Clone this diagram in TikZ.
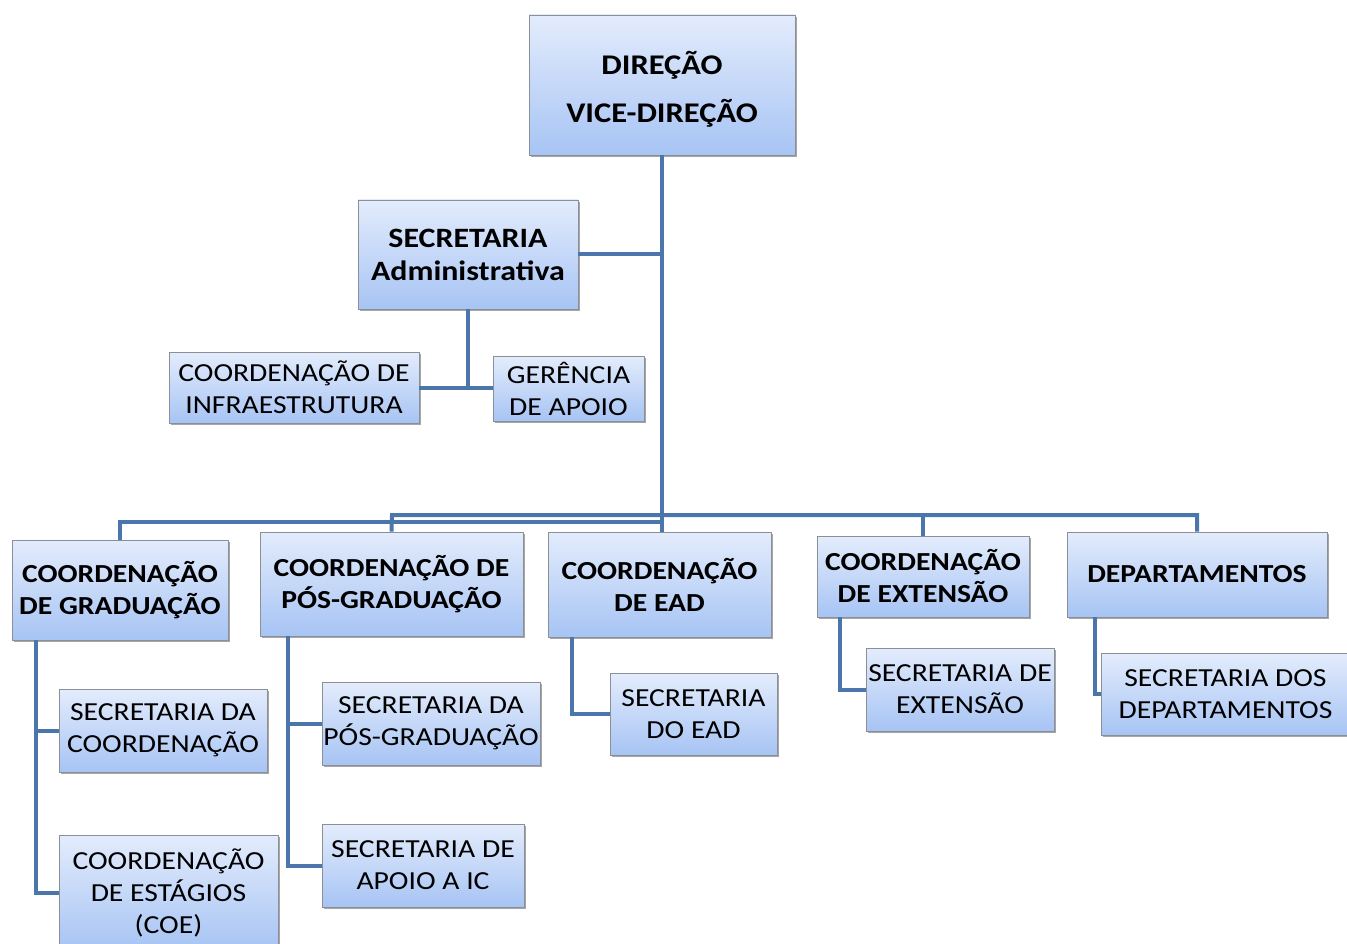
\documentclass[tikz,border=0pt]{standalone}
\usepackage{fontspec}
\setmainfont{Carlito}[FakeStretch=1.14]
\usetikzlibrary{shadows}
\definecolor{boxtop}{HTML}{E3ECFC}
\definecolor{boxbot}{HTML}{A7C4F4}
\definecolor{boxline}{HTML}{8A8F98}
\definecolor{linkblue}{HTML}{4A76AC}
\tikzset{
  x=1pt, y=-1pt,
}
\tikzstyle{unit}=[draw=boxline, line width=0.8pt, top color=boxtop, bottom color=boxbot,
  drop shadow={shadow xshift=2pt, shadow yshift=-2pt, opacity=0.35, fill=black},
  align=center, inner sep=0pt, font=\fontsize{26}{32}\selectfont]
\tikzstyle{head}=[unit, font=\bfseries\fontsize{26}{32}\selectfont]
\tikzstyle{link}=[linkblue, line width=4pt]

\begin{document}
\begin{tikzpicture}
    \useasboundingbox (0,0) rectangle (1347,944);
    \clip (0,0) rectangle (1347,944);
    % top of the chart
    \node[head, minimum width=266pt, minimum height=140pt] (dir) at (662,85) {};
    \node[font=\bfseries\fontsize{28.5}{48}\selectfont, align=center] (dirtext) at (662,89) {DIREÇÃO\\VICE-DIREÇÃO};
    \node[head, minimum width=220pt, minimum height=109pt, font=\bfseries\fontsize{28}{33}\selectfont] (secadm) at (468,254.5) {SECRETARIA\\Administrativa};
    \node[unit, minimum width=250pt, minimum height=71pt] (infra) at (294,387.5) {COORDENAÇÃO DE\\INFRAESTRUTURA};
    \node[unit, minimum width=151pt, minimum height=65pt] (ger) at (568.5,388.5) {GERÊNCIA\\DE APOIO};
    % coordinations
    \node[head, minimum width=216pt, minimum height=100pt] (grad) at (120,590) {COORDENAÇÃO\\DE GRADUAÇÃO};
    \node[head, minimum width=263pt, minimum height=104pt] (pos) at (391.5,584) {COORDENAÇÃO DE\\PÓS-GRADUAÇÃO};
    \node[head, minimum width=223pt, minimum height=105pt] (ead) at (659.5,584.5) {COORDENAÇÃO\\DE EAD};
    \node[head, minimum width=212pt, minimum height=81pt] (ext) at (923,576.5) {COORDENAÇÃO\\DE EXTENSÃO};
    \node[head, minimum width=260pt, minimum height=85pt] (dep) at (1197,574.5) {DEPARTAMENTOS};
    % secretarias
    \node[unit, minimum width=208pt, minimum height=83pt] (secgrad) at (163,730.5) {SECRETARIA DA\\COORDENAÇÃO};
    \node[unit, minimum width=219pt, minimum height=115pt] (coe) at (168.5,892.5) {COORDENAÇÃO\\DE ESTÁGIOS\\(COE)};
    \node[unit, minimum width=218pt, minimum height=83pt] (secpos) at (431,723.5) {SECRETARIA DA\\PÓS-GRADUAÇÃO};
    \node[unit, minimum width=202pt, minimum height=83pt] (secic) at (423,865.5) {SECRETARIA DE\\APOIO A IC};
    \node[unit, minimum width=167pt, minimum height=82pt] (secead) at (693.5,714) {SECRETARIA\\DO EAD};
    \node[unit, minimum width=188pt, minimum height=83pt] (secext) at (960,689.5) {SECRETARIA DE\\EXTENSÃO};
    \node[unit, minimum width=249pt, minimum height=82pt] (secdep) at (1225.5,694) {SECRETARIA DOS\\DEPARTAMENTOS};
    % connectors
    \coordinate (busg) at (661,522);
    \coordinate (busl) at (392,515);
    \coordinate (busr) at (1197,515);
    \draw[link] (dir.south) -- (dir.south |- ead.north);
    \draw[link] (secadm.east) -- (secadm.east -| dir.south);
    \draw[link] (secadm.south) -- (secadm.south |- infra.east);
    \draw[link] (infra.east) -- (infra.east -| ger.west);
    \draw[link] (grad.north) |- (busg);
    \draw[link] (pos.north) -- (busl) -- (busr) -- (dep.north);
    \draw[link] (ext.north) -- (ext.north |- busl);
    \draw[link] ([xshift=24pt]grad.south west) |- (coe.west);
    \draw[link] (secgrad.west) -- ++(-23,0);
    \draw[link] ([xshift=28pt]pos.south west) |- (secic.west);
    \draw[link] (secpos.west) -- ++(-34,0);
    \draw[link] ([xshift=24pt]ead.south west) |- (secead.west);
    \draw[link] ([xshift=23pt]ext.south west) |- (secext.west);
    \draw[link] ([xshift=28pt]dep.south west) |- (secdep.west);
\end{tikzpicture}
\end{document}
